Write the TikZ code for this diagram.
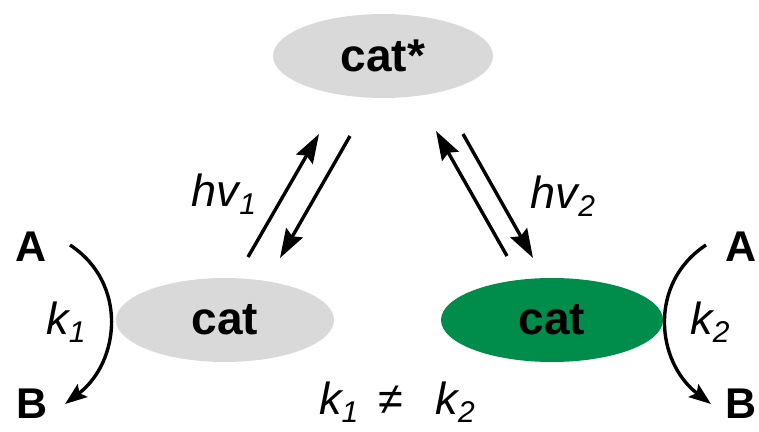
\documentclass[tikz,border=0pt]{standalone}
\usepackage{fontspec}
\setmainfont{Liberation Sans}
\usetikzlibrary{arrows.meta,shapes.geometric}
\definecolor{catgray}{RGB}{217,217,217}
\definecolor{catgreen}{RGB}{0,140,75}
\newcommand{\subs}[1]{\raisebox{-8pt}{\fontsize{30}{30}\selectfont #1}}
\begin{document}
\begin{tikzpicture}[x=1pt,y=-1pt,
  catnode/.style={ellipse, inner sep=0pt, minimum width=220pt, minimum height=84pt,
    font=\fontsize{46}{46}\selectfont\bfseries},
  letter/.style={inner sep=0pt, font=\fontsize{43}{43}\selectfont\bfseries},
  lbl/.style={inner sep=0pt, font=\fontsize{45}{45}\selectfont\itshape},
  photo/.style={line width=3.4pt, -{Stealth[length=29pt,width=19pt,inset=4pt]}},
  rxn/.style={line width=3.4pt, -{Stealth[length=22pt,width=16pt,inset=4pt]}}]
\useasboundingbox (0,0) rectangle (759,431);
% ellipses
\node[catnode, fill=catgray] (star) at (383,56) {cat*};
\node[catnode, fill=catgray, minimum width=218pt] (catL) at (225,320) {cat};
\node[catnode, fill=catgreen, minimum width=222pt] (catR) at (552,320) {cat};
% photo arrows
\coordinate (l1s) at (248,257);
\coordinate (l1e) at (319,134);
\coordinate (l2s) at (350,136);
\coordinate (l2e) at (280,258);
\coordinate (r1s) at (507,256);
\coordinate (r1e) at (436,131);
\coordinate (r2s) at (463,134);
\coordinate (r2e) at (533,258);
\draw[photo] (l1s) -- (l1e);
\draw[photo] (l2s) -- (l2e);
\draw[photo] (r1s) -- (r1e);
\draw[photo] (r2s) -- (r2e);
\node[lbl] (hv1) at (224,194) {hv\subs{1}};
\node[lbl] (hv2) at (563,196) {hv\subs{2}};
% left reaction
\node[letter] (A1) at (31,247) {A};
\node[letter] (B1) at (32,404) {B};
\coordinate (la) at (70,245);
\coordinate (lb) at (65,404);
\draw[rxn] (la) .. controls (128,283) and (120,362) .. (lb);
\node[lbl] (k1) at (66,322) {k\subs{1}};
% right reaction
\node[letter] (A2) at (741,247) {A};
\node[letter] (B2) at (741,404) {B};
\coordinate (ra) at (706,245);
\coordinate (rb) at (711,404);
\draw[rxn] (ra) .. controls (648,283) and (656,362) .. (rb);
\node[lbl] (k2) at (710,322) {k\subs{2}};
% inequality
\node[lbl] (neq) at (397,402) {k\subs{1}\;\,≠\;\, k\subs{2}};
\end{tikzpicture}
\end{document}
